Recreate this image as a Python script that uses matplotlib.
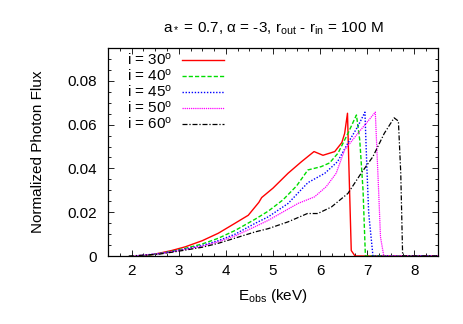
import numpy as np
import matplotlib
matplotlib.use('Agg')
from matplotlib import pyplot as plt
from matplotlib.ticker import MultipleLocator

plt.rcParams['font.family'] = ['Liberation Sans', 'DejaVu Sans']
plt.rcParams['mathtext.fontset'] = 'custom'
plt.rcParams['mathtext.rm'] = 'Liberation Sans'
plt.rcParams['mathtext.it'] = 'Liberation Sans'

# %%
# ============================ DATA ====================================

labels = ['i = 30$^o$', 'i = 40$^o$', 'i = 45$^o$', 'i = 50$^o$', 'i = 60$^o$']

e_30 = [2.29, 2.57, 2.85, 3.14, 3.5, 3.84, 4.19, 4.475, 4.62, 4.7, 4.76,
        5.0, 5.32, 5.6, 5.87, 6.06, 6.31, 6.46, 6.52, 6.58, 6.61, 6.66,
        6.74, 8.5]
f_30 = [0.0, 0.0012, 0.0025, 0.0042, 0.0070, 0.0104, 0.0149, 0.0186, 0.0224,
        0.0245, 0.0267, 0.031, 0.0378, 0.043, 0.0477, 0.046, 0.0477, 0.0518,
        0.056, 0.0652, 0.041, 0.0025, 0.0, 0.0]

e_40 = [2.2, 2.57, 2.85, 3.14, 3.5, 3.84, 4.2, 4.62, 4.9, 5.21, 5.5, 5.74,
        6.02, 6.2, 6.38, 6.59, 6.77, 6.84, 6.91, 6.96, 8.5]
f_40 = [0.0, 0.001, 0.0021, 0.0035, 0.0055, 0.0081, 0.0117, 0.0168, 0.0205,
        0.0256, 0.032, 0.0393, 0.0408, 0.0425, 0.047, 0.056, 0.0644, 0.053,
        0.030, 0.0, 0.0]

e_45 = [2.1, 2.57, 2.85, 3.14, 3.5, 3.84, 4.2, 4.62, 4.9, 5.32, 5.74, 6.1,
        6.37, 6.59, 6.8, 6.95, 6.99, 7.03, 7.12, 8.5]
f_45 = [0.0, 0.0011, 0.0020, 0.0032, 0.0048, 0.0070, 0.0100, 0.0149, 0.0179,
        0.024, 0.0335, 0.0378, 0.0431, 0.0516, 0.0592, 0.0657, 0.041, 0.0196,
        0.0, 0.0]

e_50 = [2.05, 2.57, 2.85, 3.14, 3.5, 3.84, 4.2, 4.62, 4.9, 5.53, 5.88, 6.13,
        6.34, 6.52, 6.8, 7.17, 7.24, 7.28, 7.35, 8.5]
f_50 = [0.0, 0.001, 0.0019, 0.0030, 0.0045, 0.0065, 0.0092, 0.0134, 0.0163,
        0.024, 0.027, 0.0317, 0.0378, 0.0485, 0.056, 0.0657, 0.030, 0.0087,
        0.0, 0.0]

e_60 = [1.94, 2.57, 2.85, 3.14, 3.5, 3.84, 4.2, 4.62, 4.9, 5.32, 5.73, 5.95,
        6.24, 6.59, 6.87, 7.12, 7.36, 7.57, 7.66, 7.71, 7.75, 8.5]
f_60 = [0.0, 0.0008, 0.0017, 0.0027, 0.0040, 0.0058, 0.0082, 0.0110, 0.0125,
        0.0156, 0.0194, 0.0194, 0.0224, 0.0286, 0.0378, 0.0454, 0.056,
        0.0631, 0.0616, 0.0378, 0.0, 0.0]

x_ticks = [2, 3, 4, 5, 6, 7, 8]
y_ticks = [0, 0.02, 0.04, 0.06, 0.08]
y_tick_labels = ['0', '0.02', '0.04', '0.06', '0.08']

# %%
# ============================ PLOT ====================================

fig = plt.figure(figsize=(4.63, 3.24), dpi=100)
ax = fig.add_axes([108 / 463, 68 / 324, 330 / 463, 208 / 324])

ax.plot(e_30, f_30, color='#ff0000', lw=1.0, ls='-', label=labels[0])
ax.plot(e_40, f_40, color='#00dd00', lw=1.0, ls=(0, (3, 1.5)),
        label=labels[1])
ax.plot(e_45, f_45, color='#0000ff', lw=1.0, ls=(0, (1, 1.2)),
        label=labels[2])
ax.plot(e_50, f_50, color='#ff00ff', lw=0.9, ls=(0, (1, 0.7)),
        label=labels[3])
ax.plot(e_60, f_60, color='black', lw=0.9, ls=(0, (4, 1.5, 1, 1.5)),
        label=labels[4])

ax.set_xlim(1.5, 8.5)
ax.set_ylim(0, 0.095)
ax.set_xticks(x_ticks)
ax.set_yticks(y_ticks)
ax.set_yticklabels(y_tick_labels)
ax.xaxis.set_minor_locator(MultipleLocator(0.25))
ax.yaxis.set_minor_locator(MultipleLocator(0.005))
ax.tick_params(which='both', direction='in', top=True, right=True,
               labelsize=11, width=0.6)
ax.tick_params(which='major', length=4.5, pad=6)
ax.tick_params(axis='y', which='major', pad=8)
ax.tick_params(which='minor', length=2.2)
for sp in ax.spines.values():
    sp.set_linewidth(0.9)

ax.set_xlabel('E$_{\\rm obs}$ (keV)', fontsize=11, labelpad=6)
ax.set_ylabel('Normalized Photon Flux', fontsize=11, labelpad=16)
ax.set_title('a$_*$ = 0.7, $\\alpha$ = -3, r$_{\\rm out}$ - r$_{\\rm in}$'
             ' = 100 M', fontsize=11, pad=11)

ax.legend(loc='upper left', bbox_to_anchor=(0.03, 1.025), frameon=False,
          markerfirst=False, handlelength=2.8, handletextpad=0.6,
          labelspacing=0.0, fontsize=11, borderaxespad=0.2)

plt.savefig('out.png', dpi=100)
